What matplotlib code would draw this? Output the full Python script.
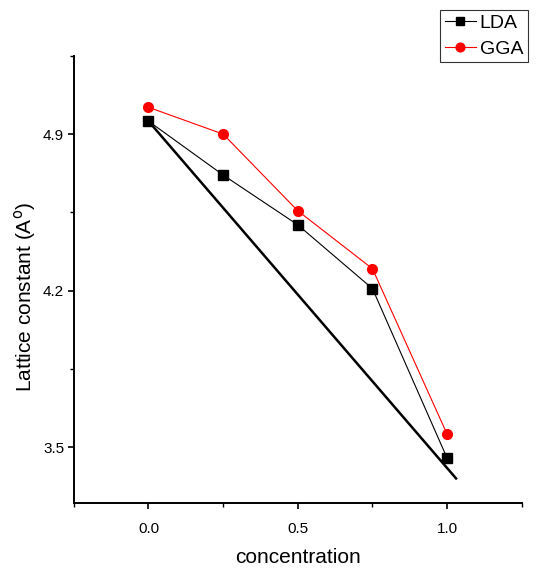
import matplotlib.pyplot as plt
from matplotlib.ticker import MultipleLocator

plt.rcParams['font.family'] = ['Liberation Sans', 'DejaVu Sans']

conc = [0.0, 0.25, 0.5, 0.75, 1.0]
lda = [4.958, 4.717, 4.494, 4.209, 3.451]
gga = [5.020, 4.900, 4.557, 4.298, 3.558]
# straight reference line (Vegard-like)
ref_x = [0.0, 1.03]
ref_y = [4.958, 3.36]

fig = plt.figure(figsize=(5.39, 5.70), dpi=100)
ax = fig.add_axes([0.137, 0.1175, 0.831, 0.7845])

ax.plot(ref_x, ref_y, '-', color='black', lw=1.8)
l1, = ax.plot(conc, lda, 's-', color='black', lw=0.8, ms=7, label='LDA')
l2, = ax.plot(conc, gga, 'o-', color='red', lw=0.8, ms=7, label='GGA')

ax.set_xlim(-0.25, 1.25)
ax.set_ylim(3.25, 5.25)
ax.set_xticks([0.0, 0.5, 1.0])
ax.set_xticklabels(['0.0', '0.5', '1.0'])
ax.xaxis.set_minor_locator(MultipleLocator(0.25))
ax.set_yticks([3.5, 4.2, 4.9])
ax.set_yticklabels(['3.5', '4.2', '4.9'])
ax.yaxis.set_minor_locator(MultipleLocator(0.35))
ax.tick_params(which='major', direction='out', length=4, width=1.2, labelsize=11)
ax.tick_params(which='minor', direction='out', length=3, width=1.0)
ax.tick_params(axis='x', pad=10)
ax.tick_params(axis='y', pad=3)

for s in ['top', 'right']:
    ax.spines[s].set_visible(False)
for s in ['left', 'bottom']:
    ax.spines[s].set_linewidth(1.4)

ax.set_xlabel('concentration', fontsize=15, labelpad=8)
ax.set_ylabel(r'Lattice constant (A$^{\mathrm{o}}$)', fontsize=15)
ax.yaxis.set_label_coords(-0.08, 0.46)

leg = fig.legend(handles=[l1, l2], loc='upper right', bbox_to_anchor=(0.98, 0.983),
                 fontsize=14, frameon=True, fancybox=False, edgecolor='black',
                 handlelength=1.6, handletextpad=0.2, borderpad=0.25, labelspacing=0.4,
                 borderaxespad=0.0, markerscale=0.9)
leg.get_frame().set_linewidth(0.8)

plt.savefig('out.png', dpi=100)
